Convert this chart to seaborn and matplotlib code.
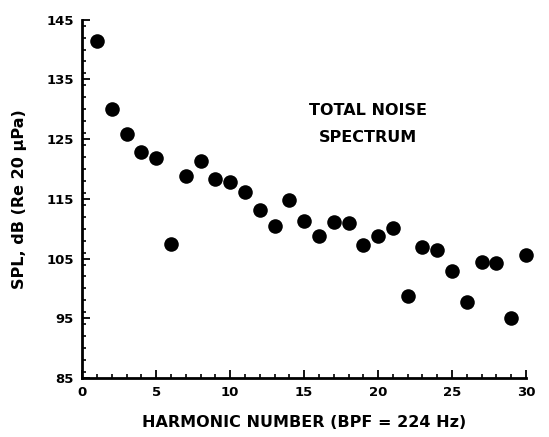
import matplotlib
matplotlib.use("Agg")
import matplotlib.pyplot as plt
import seaborn as sns
import pandas as pd
from matplotlib.ticker import MultipleLocator

harmonic = list(range(1, 31))
spl_db = [141.5, 130.0, 125.9, 122.9, 121.9, 107.5, 118.9, 121.4, 118.3, 117.8,
          116.2, 113.2, 110.4, 114.8, 111.3, 108.8, 111.1, 110.9, 107.2, 108.8,
          110.2, 98.8, 107.0, 106.4, 102.9, 97.7, 104.4, 104.3, 95.1, 105.6]
x_ticks = [0, 5, 10, 15, 20, 25, 30]
y_ticks = [85, 95, 105, 115, 125, 135, 145]

sns.set_theme(style="ticks")
plt.rcParams['font.family'] = ['DejaVu Sans']
plt.rcParams['font.weight'] = 'bold'
plt.rcParams['text.color'] = 'black'
plt.rcParams['axes.labelcolor'] = 'black'
plt.rcParams['xtick.color'] = 'black'
plt.rcParams['ytick.color'] = 'black'

df = pd.DataFrame({"harmonic": harmonic, "spl": spl_db})

fig = plt.figure(figsize=(5.49, 4.37), dpi=100)
ax = fig.add_axes([0.150, 0.135, 0.808, 0.820])
sns.scatterplot(data=df, x="harmonic", y="spl", ax=ax, color="black",
                s=110, edgecolor="black", linewidth=0, legend=False, clip_on=False)

ax.set_xlim(0, 30)
ax.set_ylim(85, 145)
ax.set_xticks(x_ticks)
ax.set_yticks(y_ticks)
ax.xaxis.set_minor_locator(MultipleLocator(1))
ax.yaxis.set_minor_locator(MultipleLocator(2))
ax.tick_params(which="major", direction="in", length=6, width=1.3, labelsize=9.5, pad=6, colors="black")
ax.tick_params(which="minor", direction="in", length=3, width=1.2, colors="black")
for lab in ax.get_xticklabels() + ax.get_yticklabels():
    lab.set_fontweight("bold")

for side in ["top", "right"]:
    ax.spines[side].set_visible(False)
for side in ["left", "bottom"]:
    ax.spines[side].set_linewidth(2)
    ax.spines[side].set_color("black")

ax.set_xlabel("HARMONIC NUMBER (BPF = 224 Hz)", fontsize=11.5, fontweight="bold", labelpad=11)
ax.set_ylabel("SPL, dB (Re 20 μPa)", fontsize=11.5, fontweight="bold", labelpad=14)

ax.text(19.3, 129.8, "TOTAL NOISE", ha="center", va="center", fontsize=11.5, fontweight="bold")
ax.text(19.3, 125.3, "SPECTRUM", ha="center", va="center", fontsize=11.5, fontweight="bold")

fig.savefig("out.png", dpi=100, facecolor="white")
